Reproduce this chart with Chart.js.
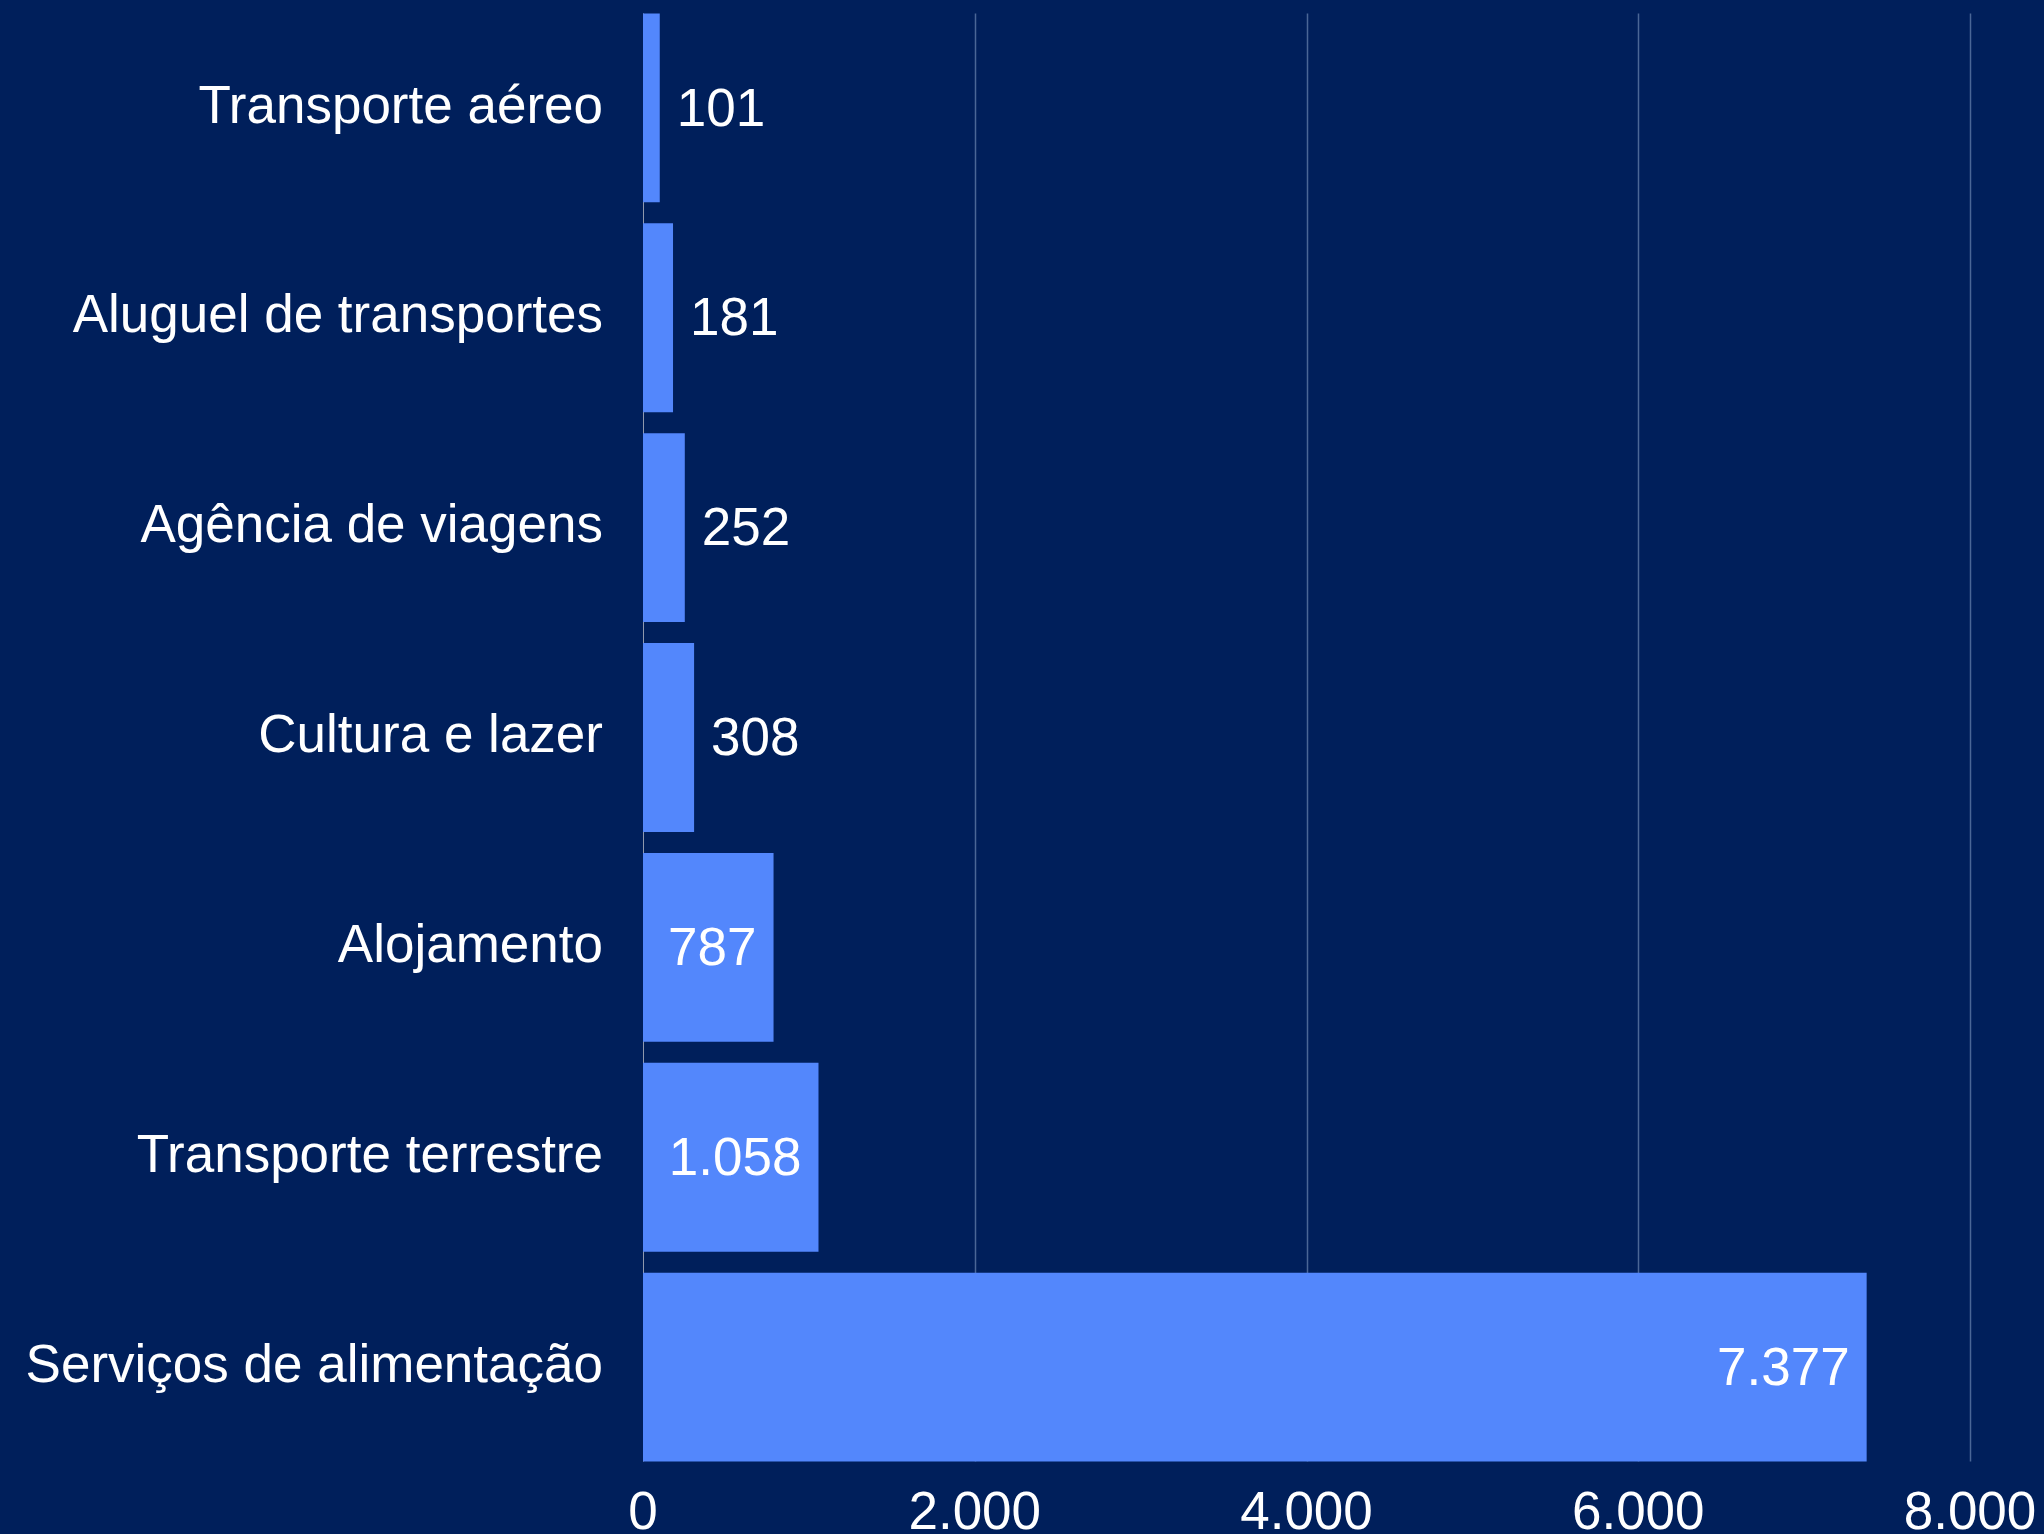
<!DOCTYPE html>
<html>
<head>
<meta charset="utf-8">
<script src="https://cdn.jsdelivr.net/npm/chart.js@4.4.1/dist/chart.umd.min.js"></script>
<style>
  html, body { margin: 0; padding: 0; background: #001f5b; }
  canvas { display: block; }
</style>
</head>
<body>
<canvas id="chart" width="2044" height="1534"></canvas>
<script>
const categories = [
  "Transporte aéreo",
  "Aluguel de transportes",
  "Agência de viagens",
  "Cultura e lazer",
  "Alojamento",
  "Transporte terrestre",
  "Serviços de alimentação"
];
const values = [101, 181, 252, 308, 787, 1058, 7377];
const xTicks = [0, 2000, 4000, 6000, 8000];

const BAR = "#5387fc";
const FONT = "'Liberation Sans', Helvetica, Arial, sans-serif";

function fmt(v) {
  return String(v).replace(/\B(?=(\d{3})+(?!\d))/g, ".");
}

// grid lines only span the bars, like the original
const gridPlugin = {
  id: "grid",
  beforeDatasetsDraw(chart) {
    const ctx = chart.ctx;
    const xs = chart.scales.x;
    const bars = chart.getDatasetMeta(0).data;
    const first = bars[0].getProps(["y", "height"], true);
    const last = bars[bars.length - 1].getProps(["y", "height"], true);
    const top = first.y - first.height / 2;
    const bottom = last.y + last.height / 2;
    ctx.save();
    xTicks.forEach(t => {
      const x = Math.round(xs.getPixelForValue(t)) + 0.5;
      ctx.strokeStyle = t === 0 ? "#8f98ad" : "#4a6696";
      ctx.lineWidth = t === 0 ? 1 : 1.5;
      ctx.beginPath();
      ctx.moveTo(x, top);
      ctx.lineTo(x, bottom);
      ctx.stroke();
    });
    ctx.restore();
  }
};

const labelPlugin = {
  id: "valueLabels",
  afterDatasetsDraw(chart) {
    const ctx = chart.ctx;
    const bars = chart.getDatasetMeta(0).data;
    ctx.save();
    ctx.font = "53px " + FONT;
    ctx.fillStyle = "#ffffff";
    ctx.textBaseline = "middle";
    bars.forEach((bar, i) => {
      const p = bar.getProps(["x", "y", "base"], true);
      const txt = fmt(values[i]);
      const w = ctx.measureText(txt).width;
      const pad = 17;
      if (w + 2 * pad < p.x - p.base) {
        ctx.textAlign = "right";
        ctx.fillText(txt, p.x - pad, p.y + 3);
      } else {
        ctx.textAlign = "left";
        ctx.fillText(txt, p.x + pad, p.y + 3);
      }
    });
    ctx.restore();
  }
};

new Chart(document.getElementById("chart"), {
  type: "bar",
  data: {
    labels: categories,
    datasets: [{
      data: values,
      backgroundColor: BAR,
      borderWidth: 0,
      barPercentage: 0.9,
      categoryPercentage: 1
    }]
  },
  options: {
    indexAxis: "y",
    responsive: false,
    animation: false,
    devicePixelRatio: 1,
    layout: { padding: { top: 3, right: 74, bottom: 0, left: 0 } },
    plugins: {
      legend: { display: false },
      tooltip: { enabled: false }
    },
    scales: {
      x: {
        min: 0,
        max: 8000,
        afterBuildTicks(scale) {
          scale.ticks = xTicks.map(v => ({ value: v }));
        },
        afterFit(scale) {
          scale.height = 62;
          scale.paddingLeft = 0;
          scale.paddingRight = 0;
        },
        grid: { display: false, drawTicks: false },
        border: { display: false },
        ticks: {
          color: "#ffffff",
          font: { family: FONT, size: 53 },
          padding: 11,
          maxRotation: 0,
          callback: v => fmt(v)
        }
      },
      y: {
        afterFit(scale) {
          scale.width = 643;
          scale.paddingTop = 0;
          scale.paddingBottom = 0;
        },
        grid: { display: false, drawTicks: false },
        border: { display: false },
        ticks: {
          color: "#ffffff",
          font: { family: FONT, size: 53 },
          padding: 40
        }
      }
    }
  },
  plugins: [gridPlugin, labelPlugin]
});
</script>
</body>
</html>
